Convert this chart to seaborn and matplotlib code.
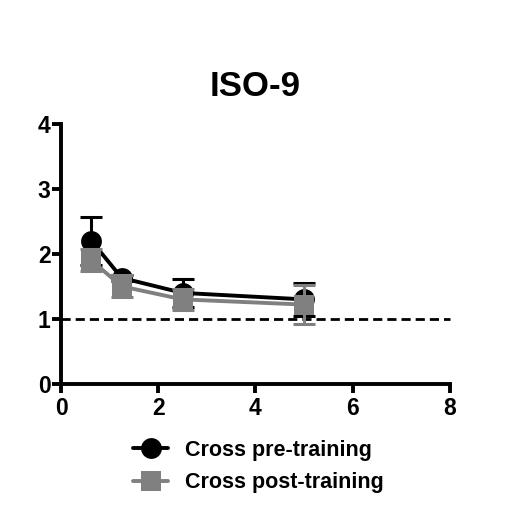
import numpy as np
import pandas as pd
import seaborn as sns
import matplotlib.pyplot as plt

# values
conc = [0.625, 1.25, 2.5, 5.0]
pre_mean = [2.2, 1.63, 1.40, 1.30]
pre_err = [0.37, 0.05, 0.21, 0.25]
post_mean = [1.90, 1.50, 1.30, 1.22]
post_err = [0.17, 0.17, 0.16, 0.30]
series = ['Cross pre-training', 'Cross post-training']
colors = ['black', '#808080']
marks = ['o', 's']

df = pd.DataFrame({
    'x': conc * 2,
    'y': pre_mean + post_mean,
    'err': pre_err + post_err,
    'group': [series[0]] * 4 + [series[1]] * 4,
})

sns.set_style('ticks', {'axes.edgecolor': 'black', 'xtick.color': 'black',
                        'ytick.color': 'black', 'text.color': 'black',
                        'axes.labelcolor': 'black'})
plt.rcParams['font.family'] = ['Liberation Sans', 'DejaVu Sans']
plt.rcParams['font.weight'] = 'bold'

fig = plt.figure(figsize=(5.17, 5.16), dpi=100)
ax = fig.add_axes([0.118, 0.256, 0.752, 0.504])

ax.axhline(1, color='black', lw=2, ls=(0, (3.3, 1.8)), zorder=1, clip_on=False)

for i, name in enumerate(series):
    sub = df[df['group'] == name]
    ax.errorbar(sub['x'], sub['y'], yerr=sub['err'], fmt='none', ecolor=colors[i],
                elinewidth=2.2, capsize=8, capthick=2.2, zorder=2 + i * 2)

sns.lineplot(data=df, x='x', y='y', hue='group', style='group', hue_order=series,
             palette=colors, markers=marks, dashes=False, lw=2.8, markersize=15,
             markeredgewidth=0, ax=ax, legend=False, zorder=3)
for i, line in enumerate(ax.lines[-2:]):
    line.set_zorder(3 + i * 2)

ax.set_xlim(0, 8)
ax.set_ylim(0, 4)
ax.set_xticks([0, 2, 4, 6, 8])
ax.set_yticks([0, 1, 2, 3, 4])
ax.set_xlabel('')
ax.set_ylabel('')
ax.set_title('ISO-9', fontsize=25, fontweight='bold', pad=20)
sns.despine(ax=ax)
for s in ['left', 'bottom']:
    ax.spines[s].set_linewidth(2.8)
ax.tick_params(width=2.8, length=6.5, labelsize=16.5)
ax.tick_params(axis='x', pad=3)
ax.tick_params(axis='y', pad=1)
for lab in ax.get_xticklabels() + ax.get_yticklabels():
    lab.set_fontweight('bold')

handles = [plt.Line2D([], [], color=colors[i], marker=marks[i], lw=2.8, markersize=15,
                      markeredgewidth=0) for i in range(2)]
fig.legend(handles, series, loc='center', bbox_to_anchor=(0.5, 0.096), frameon=False,
           prop={'weight': 'bold', 'size': 15.5}, handlelength=1.6, handletextpad=0.8,
           labelspacing=0.55)

fig.savefig('out.png', dpi=100)
